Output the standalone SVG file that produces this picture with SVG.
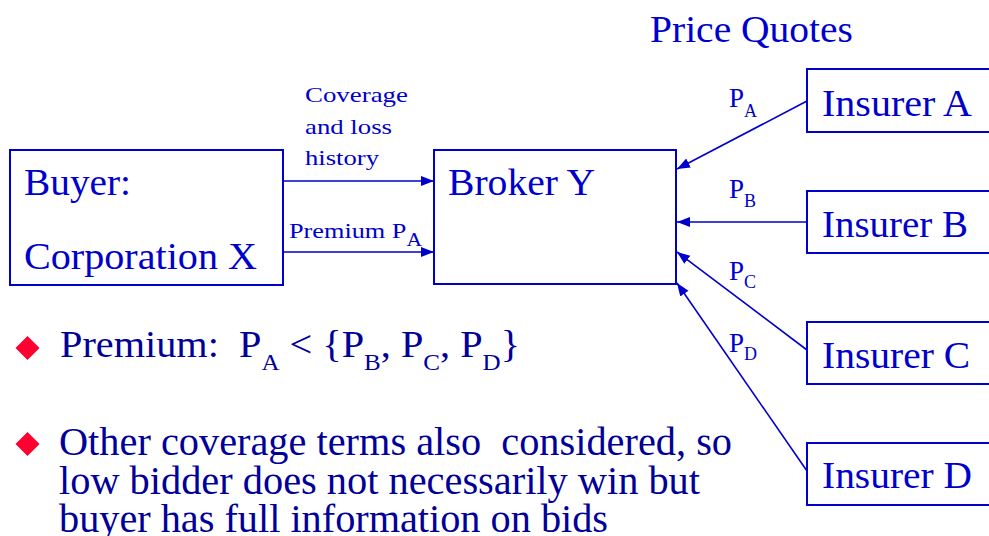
<svg xmlns="http://www.w3.org/2000/svg" width="989" height="536" viewBox="0 0 989 536">
<defs>
<style>
text{font-family:'Liberation Serif','Times New Roman','Nimbus Roman','DejaVu Serif',serif}
.box{fill:none;stroke:#0000CC;stroke-width:2}
.t{fill:#0000CC}
.big{font-size:37px}
.sm{font-size:22px}
.pl{font-size:27px}
.sub{font-size:18px}
.b{fill:#000099}
.con{fill:none;stroke:#0000CC;stroke-width:1.6;marker-end:url(#ah)}
.dia{fill:#FF0033}
</style>
<marker id="ah" markerUnits="userSpaceOnUse" markerWidth="14" markerHeight="12" viewBox="0 0 14 12" refX="13" refY="6" orient="auto">
<path d="M0,1 L13,6 L0,11 z" fill="#0000CC"/>
</marker>
</defs>
<rect width="989" height="536" fill="#FFFFFF"/>
<g font-family="Liberation Serif, Times New Roman, serif">
<text class="t big" x="650" y="42" textLength="203" lengthAdjust="spacingAndGlyphs">Price Quotes</text>

<g id="buyer">
<rect class="box" x="10" y="150" width="273" height="135"/>
<text class="t big" x="24" y="195" textLength="107" lengthAdjust="spacingAndGlyphs">Buyer:</text>
<text class="t big" x="24" y="269" textLength="233" lengthAdjust="spacingAndGlyphs">Corporation X</text>
</g>

<g id="broker">
<rect class="box" x="434" y="150" width="242" height="134"/>
<text class="t big" x="448" y="195" textLength="147" lengthAdjust="spacingAndGlyphs">Broker Y</text>
</g>

<g id="insurerA">
<rect class="box" x="807" y="69" width="200" height="63"/>
<text class="t big" x="822" y="116" textLength="150" lengthAdjust="spacingAndGlyphs">Insurer A</text>
</g>
<g id="insurerB">
<rect class="box" x="807" y="191" width="200" height="62"/>
<text class="t big" x="822" y="237" textLength="146" lengthAdjust="spacingAndGlyphs">Insurer B</text>
</g>
<g id="insurerC">
<rect class="box" x="807" y="322" width="200" height="62"/>
<text class="t big" x="822" y="368" textLength="148" lengthAdjust="spacingAndGlyphs">Insurer C</text>
</g>
<g id="insurerD">
<rect class="box" x="807" y="443" width="200" height="62"/>
<text class="t big" x="822" y="488" textLength="150" lengthAdjust="spacingAndGlyphs">Insurer D</text>
</g>

<g id="connectors">
<line class="con" x1="283" y1="181" x2="434" y2="181"/>
<line class="con" x1="283" y1="252" x2="434" y2="252"/>
<line class="con" x1="807" y1="101" x2="677" y2="169"/>
<line class="con" x1="807" y1="222" x2="677" y2="222"/>
<line class="con" x1="807" y1="350" x2="677" y2="252"/>
<line class="con" x1="807" y1="471" x2="677" y2="283"/>
</g>

<g id="labels">
<text class="t sm" x="305" y="102" textLength="103" lengthAdjust="spacingAndGlyphs">Coverage</text>
<text class="t sm" x="305" y="134" textLength="87" lengthAdjust="spacingAndGlyphs">and loss</text>
<text class="t sm" x="305" y="165" textLength="74" lengthAdjust="spacingAndGlyphs">history</text>
<text class="t sm" x="289" y="238" textLength="133" lengthAdjust="spacingAndGlyphs">Premium P<tspan class="sub" dy="8">A</tspan></text>
<text class="t pl" x="729" y="107">P<tspan class="sub" dy="10">A</tspan></text>
<text class="t pl" x="729" y="198">P<tspan class="sub" dy="9">B</tspan></text>
<text class="t pl" x="729" y="280">P<tspan class="sub" dy="8">C</tspan></text>
<text class="t pl" x="729" y="352">P<tspan class="sub" dy="8">D</tspan></text>
</g>

<g id="bullets">
<path class="dia" d="M27.5,336 L39.5,348 L27.5,360 L15.5,348 z"/>
<text class="b" style="font-size:37px" x="60" y="357" textLength="460" lengthAdjust="spacingAndGlyphs" xml:space="preserve">Premium:  P<tspan style="font-size:23px" dy="13">A</tspan><tspan dy="-13"> &lt; {P</tspan><tspan style="font-size:23px" dy="13">B</tspan><tspan dy="-13">, P</tspan><tspan style="font-size:23px" dy="13">C</tspan><tspan dy="-13">, P</tspan><tspan style="font-size:23px" dy="13">D</tspan><tspan dy="-13">}</tspan></text>

<path class="dia" d="M27.5,432 L39.5,444 L27.5,456 L15.5,444 z"/>
<text class="b" style="font-size:40px" x="59" y="455" textLength="673" lengthAdjust="spacingAndGlyphs" xml:space="preserve">Other coverage terms also  considered, so</text>
<text class="b" style="font-size:40px" x="59" y="494" textLength="641" lengthAdjust="spacingAndGlyphs">low bidder does not necessarily win but</text>
<text class="b" style="font-size:40px" x="59" y="532" textLength="549" lengthAdjust="spacingAndGlyphs">buyer has full information on bids</text>
</g>
</g>
</svg>
